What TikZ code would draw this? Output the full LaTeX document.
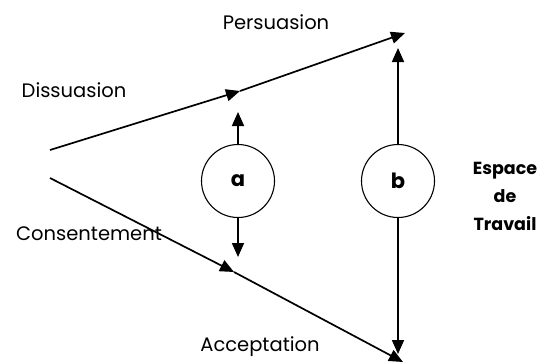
\documentclass[tikz,border=0pt]{standalone}
\usepackage{fontspec}
\setmainfont{Poppins}
\usetikzlibrary{arrows.meta}

\tikzset{
  fleche/.style={line width=1.7pt, -{Triangle[length=14pt, width=12pt]}},
  cercle/.style={circle, draw, line width=1.1pt, minimum size=73pt, inner sep=0pt, font=\bfseries\fontsize{21}{24}\selectfont},
  etiquette/.style={font=\fontsize{19.5}{22}\selectfont, inner sep=0pt},
}

\begin{document}
\begin{tikzpicture}[x=1pt, y=-1pt]
    \useasboundingbox (0,0) rectangle (548,362);

    % Points des deux branches
    \coordinate (origHaut) at (50,150);
    \coordinate (milHaut) at (240,91);
    \coordinate (finHaut) at (405,33);
    \coordinate (origBas) at (50,178);
    \coordinate (milBas) at (234,272);
    \coordinate (finBas) at (403,362);

    \draw[fleche] (origHaut) -- (milHaut);
    \draw[fleche] (milHaut) -- (finHaut);
    \draw[fleche] (origBas) -- (milBas);
    \draw[fleche] (milBas) -- (finBas);

    % Cercles
    \node[cercle] (a) at (238,181) {a};
    \node[cercle] (b) at (398,181) {b};

    \coordinate (aHaut) at (238,112);
    \coordinate (aBas) at (238,257);
    \coordinate (bHaut) at (398,48);
    \coordinate (bBas) at (398,354);

    \draw[fleche] (a.north) -- (aHaut);
    \draw[fleche] (a.south) -- (aBas);
    \draw[fleche] (b.north) -- (bHaut);
    \draw[fleche] (b.south) -- (bBas);

    % Textes
    \node[etiquette] (persuasion) at (276,22) {Persuasion};
    \node[etiquette] (dissuasion) at (74,90) {Dissuasion};
    \node[etiquette] (consentement) at (89,234) {Consentement};
    \node[etiquette] (acceptation) at (260,347) {Acceptation};
    \node[etiquette, font=\bfseries\fontsize{17.5}{28}\selectfont, align=center] (espace) at (505,196) {Espace\\de\\Travail};
\end{tikzpicture}
\end{document}
